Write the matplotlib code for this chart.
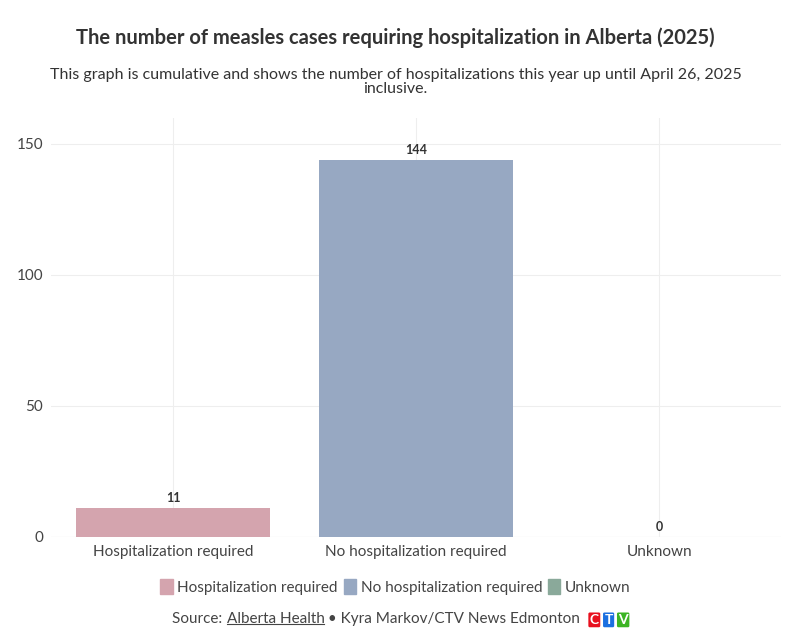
#!/usr/bin/env python3
"""
Visualization of measles hospitalizations in Alberta (2025).
Generates a bar chart saved as out.png.
"""

import matplotlib.pyplot as plt
import numpy as np

categories = ['Hospitalization required', 'No hospitalization required', 'Unknown']
cases = [11, 144, 0]
colors = ['#d4a4ae', '#97a8c2', '#8aa99a']
y_ticks = [0, 50, 100, 150]

def plot_hospitalizations():
    """Plot hospitalization status of measles cases."""
    plt.rcParams['font.family'] = ['Lato', 'DejaVu Sans']
    fig = plt.figure(figsize=(7.91, 6.33), dpi=100)
    ax = fig.add_axes([0.065, 0.152, 0.922, 0.662])

    x = np.arange(len(categories))
    bars = plt.bar(x, cases, width=0.8, color=colors, zorder=2)

    # Add value labels
    for bar in bars:
        height = bar.get_height()
        plt.text(bar.get_x() + bar.get_width()/2., height + 1.5,
                 f"{int(height)}", ha='center', va='bottom',
                 fontsize=9, fontweight='bold', color='#333333')

    plt.xticks(x, categories, fontsize=11, color='#444444')
    plt.yticks(y_ticks, fontsize=11, color='#444444')
    plt.xlim(-0.5, 2.5)
    plt.ylim(0, 160)
    plt.grid(color='#eeeeee', linewidth=0.8, zorder=0)
    for spine in ax.spines.values():
        spine.set_visible(False)
    ax.axhline(0, color='#dddddd', linewidth=0.8, zorder=1)
    ax.tick_params(length=0, pad=6)

    fig.text(0.5, 0.93, 'The number of measles cases requiring hospitalization in Alberta (2025)',
             ha='center', fontsize=14.5, fontweight='bold', color='#333333')
    fig.text(0.5, 0.853, 'This graph is cumulative and shows the number of hospitalizations this year up until April 26, 2025\ninclusive.',
             ha='center', fontsize=11.5, color='#333333', linespacing=1.05)

    # Legend
    handles = [plt.Rectangle((0, 0), 1, 1, color=c) for c in colors]
    fig.legend(handles, categories, loc='center', bbox_to_anchor=(0.5, 0.073),
               ncol=3, frameon=False, fontsize=11, handlelength=0.8,
               handleheight=1.1, handletextpad=0.3, columnspacing=0.4,
               labelcolor='#444444')

    # Source line, built piece by piece
    t1 = fig.text(0.218, 0.016, 'Source: ', fontsize=11, color='#444444')
    t2 = ax.annotate('Alberta Health', xy=(1, 0), xycoords=t1, va='bottom',
                     fontsize=11, color='#444444', annotation_clip=False)
    t3 = ax.annotate(' \u2022 Kyra Markov/CTV News Edmonton ', xy=(1, 0), xycoords=t2,
                     va='bottom', fontsize=11, color='#444444', annotation_clip=False)
    prev = t3
    for ch, c in zip('CTV', ['#e8101e', '#1b6fe0', '#3cb424']):
        prev = ax.annotate(ch, xy=(1, 0), xycoords=prev, xytext=(4, 0),
                           textcoords='offset points', va='bottom', fontsize=10,
                           fontweight='bold', color='white', annotation_clip=False,
                           bbox=dict(boxstyle='round,pad=0.1', fc=c, ec='none'))
    fig.canvas.draw()
    bb = t2.get_window_extent()
    fig.add_artist(plt.Line2D([bb.x0 / fig.bbox.width, bb.x1 / fig.bbox.width],
                              [(bb.y0 + 2) / fig.bbox.height] * 2,
                              color='#444444', linewidth=0.8))

    plt.savefig('out.png', dpi=100)

def main():
    plot_hospitalizations()

if __name__ == "__main__":
    main()
